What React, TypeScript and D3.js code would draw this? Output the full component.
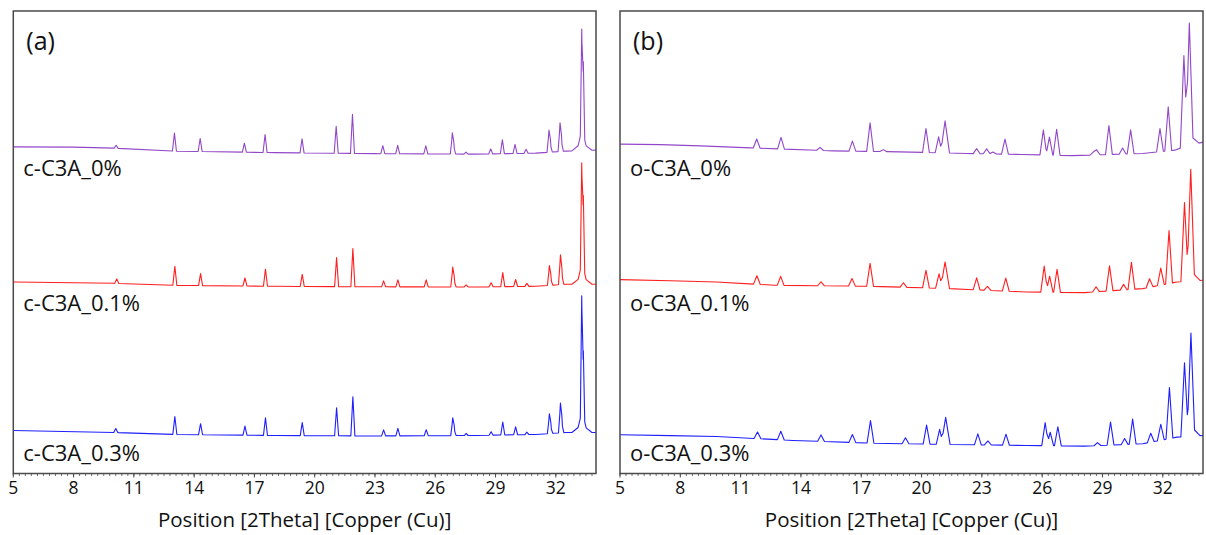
import React from 'react';
import * as d3 from 'd3';

// ---------- shared axis data ----------
const X_DOMAIN: [number, number] = [5, 34];
const X_TICKS = [5, 8, 11, 14, 17, 20, 23, 26, 29, 32];
const MINOR_STEP = 0.3;
const AXIS_TITLE = 'Position [2Theta] [Copper (Cu)]';
const Y_DOMAIN: [number, number] = [0, 462];

// ---------- panel (a): cubic C3A ----------
const panelALetter = '(a)';
const panelALabels = ['c-C3A_0%', 'c-C3A_0.1%', 'c-C3A_0.3%'];
const panelAOffsets = [285, 150, 0];

// background [2θ, intensity]
const aBgPurple = [[5, 41.3], [8, 41], [10, 40], [13, 37], [18, 35.5], [23, 34.5], [28, 34], [31, 35], [32.5, 37], [34, 38]];
const aBgRed = [[5, 41.3], [10, 40], [13, 38], [18, 37], [23, 36.5], [28, 36.3], [31, 37], [32.5, 39], [34, 39]];
const aBgBlue = [[5, 43], [10, 41], [13, 39], [18, 38], [23, 37.5], [28, 38], [31, 39], [32.5, 41], [34, 41]];

// peaks [2θ, height, half-width?]
const aPkPurple = [[10.12, 3], [13.02, 18], [14.3, 13], [16.5, 9], [17.53, 18], [19.37, 14], [21.07, 27], [21.88, 39], [23.39, 8], [24.13, 8.5], [25.53, 8], [26.85, 19], [26.92, 7], [27.53, 2], [28.76, 5], [29.34, 14], [29.97, 9], [30.52, 4], [31.66, 20], [31.73, 7], [32.21, 26], [32.28, 9], [33.29, 101, 0.07], [33.37, 72, 0.07], [33.3, 8, 0.5], [33.31, 14, 0.2]];
const aPkRed = [[10.15, 4.5], [13.04, 19], [14.32, 12], [16.53, 8], [17.55, 17], [19.38, 12], [21.09, 29], [21.9, 38], [23.43, 6], [24.14, 7], [25.55, 7], [26.87, 18], [26.94, 6], [27.54, 2], [28.78, 4], [29.36, 14], [30.0, 7], [30.56, 3], [31.68, 18], [31.75, 6], [32.23, 27], [32.3, 9], [33.29, 101, 0.07], [33.37, 72, 0.07], [33.3, 8, 0.5], [33.31, 14, 0.2]];
const aPkBlue = [[10.1, 4], [13.04, 18], [14.32, 11], [16.53, 9], [17.55, 17.5], [19.38, 13], [21.09, 28], [21.9, 39], [23.43, 6], [24.14, 7.5], [25.55, 6], [26.87, 16], [26.94, 6], [27.54, 2], [28.78, 3.5], [29.36, 13], [30.0, 8], [30.56, 2.5], [31.68, 18], [31.75, 6], [32.23, 27], [32.3, 9], [33.29, 116, 0.07], [33.37, 65, 0.07], [33.3, 8, 0.5], [33.31, 14, 0.2]];

// ---------- panel (b): orthorhombic C3A ----------
const panelBLetter = '(b)';
const panelBLabels = ['o-C3A_0%', 'o-C3A_0.1%', 'o-C3A_0.3%'];
const panelBOffsets = [285, 150, 0];

const bBgPurple = [[5, 44], [7, 43.5], [9, 42.3], [11.5, 40.3], [15.6, 37.3], [18.9, 36.3], [22.2, 34.7], [25, 33.7], [27.5, 32.5], [31, 34.7], [32.6, 38], [33, 41], [34, 46]];
const bBgRed = [[5, 43.7], [7.5, 42.5], [9.8, 41.3], [12.7, 38], [17.5, 37], [21.35, 34.7], [25.2, 31.3], [28.1, 30.7], [31, 34.7], [32.7, 41.3], [34, 43]];
const bBgBlue = [[5, 38.7], [7.5, 37.8], [9.8, 37], [13.6, 33], [17.5, 30.3], [21.35, 29], [25.2, 28], [28.1, 27.3], [31, 29.7], [32.7, 36.3], [34, 38]];

const bPkPurple = [[11.8, 9], [13.01, 11.5], [14.95, 3], [16.56, 10], [17.44, 28.5], [18.1, 2], [20.22, 24], [20.85, 16], [21.17, 32, 0.22], [22.74, 5], [23.24, 5], [23.55, 2], [24.15, 15], [26.06, 25], [26.36, 18], [26.72, 26], [28.55, 3], [28.71, 5], [29.32, 29], [30.0, 6], [30.4, 24], [31.86, 23], [32.27, 44], [33.05, 88, 0.18], [33.32, 113, 0.18], [33.35, 10, 0.45]];
const bPkRed = [[11.81, 8.5], [12.99, 9], [15.0, 4], [16.54, 7.5], [17.44, 23], [19.1, 4.5], [20.22, 17.5], [20.87, 14.5], [21.17, 26.5, 0.22], [22.74, 12], [23.28, 4], [24.19, 13], [26.1, 26], [26.37, 16], [26.74, 23], [28.68, 5], [29.35, 25], [30.05, 5.5], [30.44, 27], [31.34, 8.5], [31.9, 17], [32.31, 53], [33.08, 76, 0.18], [33.39, 102, 0.18], [33.4, 10, 0.45]];
const bPkBlue = [[11.84, 6.5], [13.0, 8.5], [15.0, 6.5], [16.56, 8], [17.46, 22.5], [19.2, 6], [20.25, 19], [20.9, 15], [21.2, 27, 0.22], [22.8, 11], [23.3, 4], [24.2, 11], [26.15, 23], [26.4, 13.5], [26.78, 19], [28.75, 3], [29.4, 23], [30.1, 6], [30.5, 25], [31.4, 9], [31.9, 16], [32.33, 51], [33.08, 71, 0.18], [33.4, 93, 0.18], [33.4, 10, 0.45]];

// ---------- styles ----------
const COLORS = ['#9247c8', '#ff1f1f', '#1f1fff'];
const FONT = '"Open Sans", "Noto Sans", sans-serif';

type Pt = number[];

function buildTrace(bg: Pt[], peaks: Pt[], hwDefault: number): [number, number][] {
  const bgScale = d3.scaleLinear().domain(bg.map((d) => d[0])).range(bg.map((d) => d[1]));
  const xs = new Set<number>(bg.map((d) => d[0]));
  peaks.forEach((p) => {
    const w = p[2] ?? hwDefault;
    xs.add(p[0] - w);
    xs.add(p[0]);
    xs.add(p[0] + w);
  });
  const sorted = Array.from(xs)
    .filter((x) => x >= X_DOMAIN[0] && x <= X_DOMAIN[1])
    .sort((a, b) => a - b);
  return sorted.map((x) => [
    x,
    bgScale(x) +
      d3.sum(peaks, (p) => {
        const w = p[2] ?? hwDefault;
        return Math.max(0, p[1] * (1 - Math.abs(x - p[0]) / w));
      }),
  ]);
}

interface PanelProps {
  left: number;
  right: number;
  top: number;
  bottom: number;
  letter: string;
  labels: string[];
  offsets: number[];
  bgs: Pt[][];
  peaks: Pt[][];
  hw: number;
}

function Panel({ left, right, top, bottom, letter, labels, offsets, bgs, peaks, hw }: PanelProps) {
  const x = d3.scaleLinear().domain(X_DOMAIN).range([left, right]);
  const y = d3.scaleLinear().domain(Y_DOMAIN).range([bottom, top]);
  const minor: number[] = [];
  for (let i = 0; X_DOMAIN[0] + i * MINOR_STEP <= X_DOMAIN[1] + 1e-9; i++) minor.push(X_DOMAIN[0] + i * MINOR_STEP);
  const labelBaselines = [176, 311, 461];

  return (
    <g>
      <defs>
        <clipPath id={`clip-${letter}`}>
          <rect x={left} y={top} width={right - left} height={bottom - top} />
        </clipPath>
      </defs>
      <g clipPath={`url(#clip-${letter})`}>
        {bgs.map((bg, i) => {
          const pts = buildTrace(bg, peaks[i], hw);
          const line = d3
            .line<[number, number]>()
            .x((d) => x(d[0]))
            .y((d) => y(d[1] + offsets[i]));
          return <path key={i} d={line(pts) || ''} fill="none" stroke={COLORS[i]} strokeWidth={1.1} strokeLinejoin="round" />;
        })}
      </g>
      <rect x={left} y={top} width={right - left} height={bottom - top} fill="none" stroke="#4a4a4a" strokeWidth={1.5} />
      {minor.map((t, i) => (
        <line key={'m' + i} x1={x(t)} x2={x(t)} y1={bottom} y2={bottom + 2.5} stroke="#4a4a4a" strokeWidth={0.8} />
      ))}
      {X_TICKS.map((t) => (
        <g key={t}>
          <line x1={x(t)} x2={x(t)} y1={bottom} y2={bottom + 4} stroke="#4a4a4a" strokeWidth={1} />
          <text x={x(t)} y={494} textAnchor="middle" fontSize={17.5} fontFamily={FONT} fill="#111">
            {t}
          </text>
        </g>
      ))}
      <text x={(left + right) / 2} y={527} textAnchor="middle" fontSize={20.5} fontFamily={FONT} fill="#111">
        {AXIS_TITLE}
      </text>
      <text x={left + 13} y={50} fontSize={25} fontFamily={FONT} fill="#111">
        {letter}
      </text>
      {labels.map((l, i) => (
        <text key={l} x={left + 10} y={labelBaselines[i]} fontSize={22} fontFamily={FONT} fill="#111">
          {l}
        </text>
      ))}
    </g>
  );
}

export default function App() {
  return (
    <svg
      width={1206}
      height={535}
      style={{ position: 'absolute', left: 0, top: 0, background: '#fff' }}
    >
      <Panel
        left={13.3}
        right={596}
        top={11}
        bottom={473.5}
        letter={panelALetter}
        labels={panelALabels}
        offsets={panelAOffsets}
        bgs={[aBgPurple, aBgRed, aBgBlue]}
        peaks={[aPkPurple, aPkRed, aPkBlue]}
        hw={0.1}
      />
      <Panel
        left={620}
        right={1203}
        top={11}
        bottom={473.5}
        letter={panelBLetter}
        labels={panelBLabels}
        offsets={panelBOffsets}
        bgs={[bBgPurple, bBgRed, bBgBlue]}
        peaks={[bPkPurple, bPkRed, bPkBlue]}
        hw={0.17}
      />
    </svg>
  );
}
